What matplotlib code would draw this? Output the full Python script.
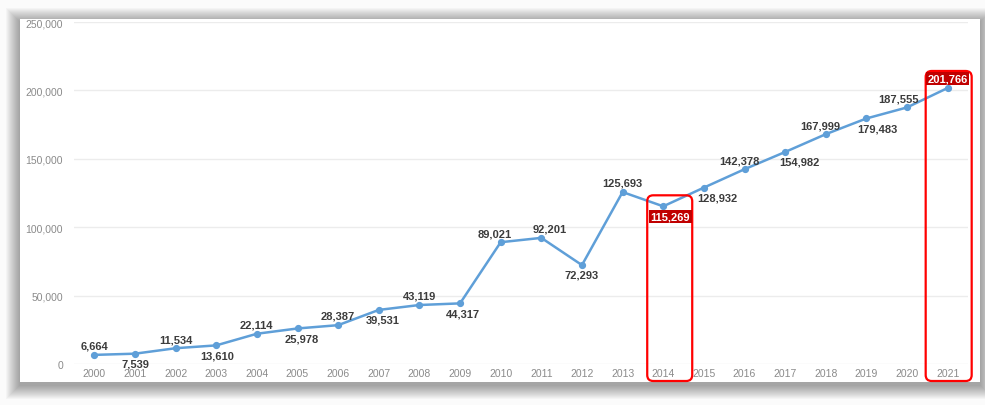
import matplotlib.pyplot as plt
from matplotlib.patches import FancyBboxPatch, Rectangle

plt.rcParams['font.family'] = ['Liberation Sans', 'DejaVu Sans']

years = ['2000', '2001', '2002', '2003', '2004', '2005', '2006', '2007',
         '2008', '2009', '2010', '2011', '2012', '2013', '2014', '2015',
         '2016', '2017', '2018', '2019', '2020', '2021']
values = [6664, 7539, 11534, 13610, 22114, 25978, 28387, 39531,
          43119, 44317, 89021, 92201, 72293, 125693, 115269, 128932,
          142378, 154982, 167999, 179483, 187555, 201766]
y_ticks = [0, 50000, 100000, 150000, 200000, 250000]
highlight = ['2014', '2021']

# label side: a = above, b = below ; small horizontal nudges in points
side = ['a', 'b', 'a', 'b', 'a', 'b', 'a', 'b', 'a', 'b', 'a',
        'a', 'b', 'a', 'b', 'b', 'a', 'b', 'a', 'b', 'a', 'a']
nudge = [0, 0, 0, 1, 0, 3, 0, 3, 0, 2, -4, 6, 0, 0, 5, 10, -4, 10, -4, 8, -6, 0]

W, H = 985, 406
fig = plt.figure(figsize=(W / 100, H / 100), dpi=100)
fig.patch.set_facecolor('#fbfbfb')

# drop shadow + white panel (pixel coords)
px0, py0, px1, py1 = 20, 23, 980, 386
for i in range(14):
    g = 14 - i
    fig.patches.append(Rectangle((px0 - g, py0 - g - 3), px1 - px0 + 2 * g, py1 - py0 + 2 * g,
                                 transform=None, fc='black', ec='none', alpha=0.028, zorder=-2))
fig.patches.append(Rectangle((px0, py0), px1 - px0, py1 - py0, transform=None,
                             fc='white', ec='none', zorder=-1))

ax = fig.add_axes([74 / W, 41 / H, (968 - 74) / W, (365 - 23) / H])
ax.set_zorder(2)
ax.set_facecolor('none')
x = list(range(len(years)))
ax.set_xlim(-0.5, len(years) - 0.5)
ax.set_ylim(y_ticks[0], y_ticks[-1])
ax.set_yticks(y_ticks)
ax.set_yticklabels([f'{t:,}' for t in y_ticks])
ax.set_xticks(x)
ax.set_xticklabels(years)
ax.tick_params(length=0, labelsize=7.5, labelcolor='#8a8a8a')
ax.tick_params(axis='y', pad=8)
ax.tick_params(axis='x', pad=3)
ax.grid(axis='y', color='#ececec', lw=1)
ax.set_axisbelow(True)
for s in ax.spines.values():
    s.set_visible(False)

ax.plot(x, values, color='#5f9fd8', lw=1.8, marker='o', ms=4.2, zorder=3)

for i, v in enumerate(values):
    hl = years[i] in highlight
    above = side[i] == 'a'
    ax.annotate(f'{v:,}', (i, v), xytext=(nudge[i], 3 if above else -3.5),
                textcoords='offset points', ha='center',
                va='bottom' if above else 'top', fontsize=8, fontweight='bold',
                color='white' if hl else '#3c3c3c', zorder=7,
                bbox=dict(boxstyle='square,pad=0.15', fc='#c00000', ec='none') if hl else None)

# red rounded boxes around highlighted years
fig.canvas.draw()
(xa, ya), (xb, yb) = ax.transData.transform([(0, 0), (1, 50000)])
ux = 1 / (xb - xa)          # data x per pixel
uy = 50000 / (yb - ya)      # data y per pixel
for yr in highlight:
    i = years.index(yr)
    v = values[i]
    top_pad = 11 if side[i] == 'b' else 17
    left = i - 16 * ux
    right = i + 29 * ux if yr == '2014' else i + 24 * ux
    if yr == '2021':
        left = i - 22 * ux
    bottom = -17 * uy
    top = v + top_pad * uy
    ax.add_patch(FancyBboxPatch((left, bottom), right - left, top - bottom,
                                boxstyle=f'round,pad=0,rounding_size={6 * ux}',
                                mutation_aspect=uy / ux, fc='none', ec='#ff0000',
                                lw=1.6, clip_on=False, zorder=6))

fig.savefig('out.png', dpi=100, facecolor=fig.get_facecolor())
